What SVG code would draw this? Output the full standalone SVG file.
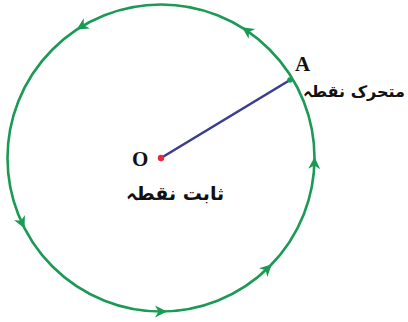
<svg xmlns="http://www.w3.org/2000/svg" width="408" height="322" viewBox="0 0 408 322">
<style>
.circ{fill:none;stroke:#1b9a55;stroke-width:2.6}
.ah{fill:#1b9a55}
.lat{font-family:"Liberation Serif",serif;font-weight:bold;font-size:21px;fill:#111}
.urdu{font-family:"DejaVu Sans","Noto Sans",sans-serif;font-weight:bold;font-size:19px;fill:#111}
.urdu-sm{font-size:16px}
</style>
<defs>
<path id="head" d="M6,0 L-6,-6 L-2.5,0 L-6,6 Z"/>
</defs>
<rect width="408" height="322" fill="#fff"/>
<g id="circle-path">
<circle class="circ" cx="161" cy="158" r="153.5"/>
</g>
<g id="connectors">
<line x1="161" y1="158" x2="290" y2="80" stroke="#3b3b90" stroke-width="2.6"/>
<g class="ah">
<use href="#head" transform="translate(81.7,26.5) rotate(149)"/>
<use href="#head" transform="translate(247,30.5) rotate(214)"/>
<use href="#head" transform="translate(314.4,163) rotate(-88)"/>
<use href="#head" transform="translate(267.5,268.5) rotate(-44)"/>
<use href="#head" transform="translate(161,311.5) rotate(0)"/>
<use href="#head" transform="translate(22,223) rotate(65)"/>
</g>
</g>
<g id="node-O">
<circle cx="161" cy="158" r="3.2" fill="#e8283c"/>
<text class="lat" x="132" y="166">O</text>
<text class="urdu" x="175" y="200" text-anchor="middle" direction="rtl">ثابت نقطہ</text>
</g>
<g id="node-A">
<circle cx="290" cy="80" r="2.8" fill="#1b9a55"/>
<text class="lat" x="295" y="71">A</text>
<text class="urdu urdu-sm" x="354" y="97" text-anchor="middle" direction="rtl">متحرک نقطہ</text>
</g>
</svg>
